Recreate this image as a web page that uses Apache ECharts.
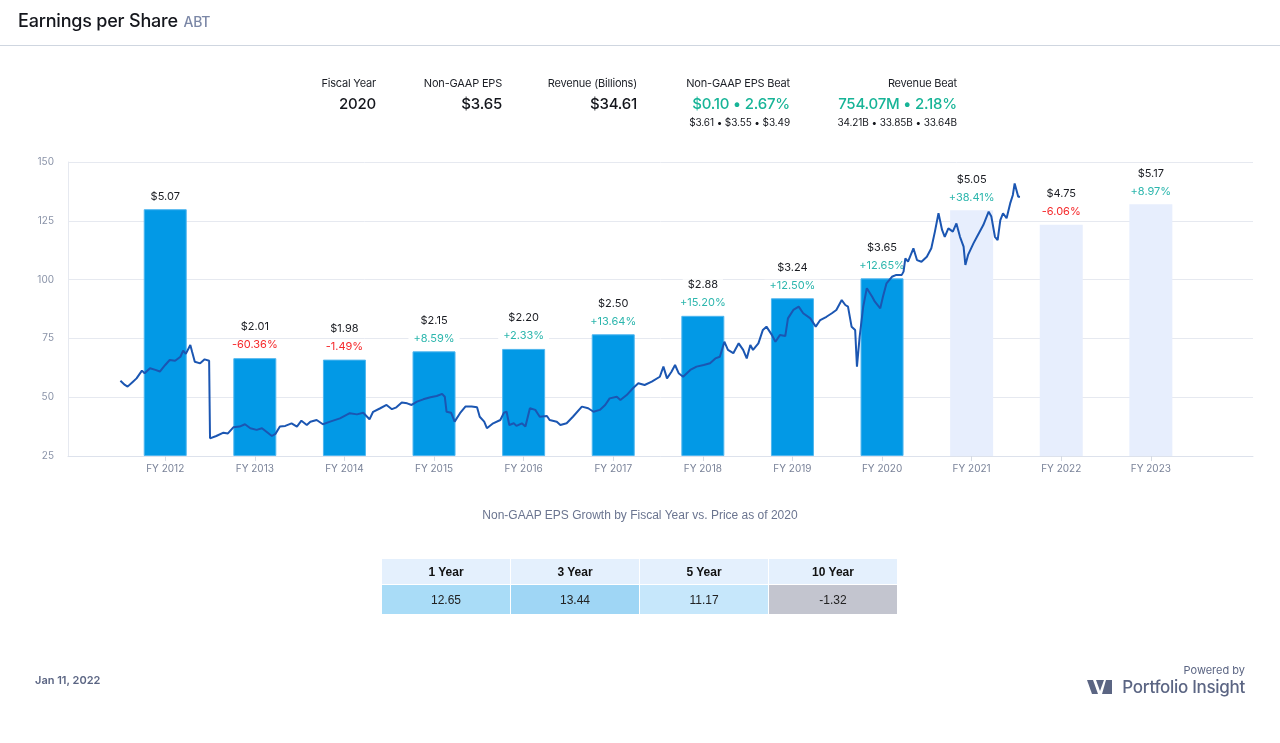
<!DOCTYPE html>
<html>
<head>
<meta charset="utf-8">
<script src="https://cdn.jsdelivr.net/npm/echarts@6.0.0/dist/echarts.min.js"></script>
<style>
  html, body { margin: 0; padding: 0; background: #fff; }
  body { width: 1280px; height: 743px; position: relative; overflow: hidden; font-family: Inter, "Noto Sans", sans-serif; }
  #chart { position: absolute; left: 0; top: 0; width: 1280px; height: 743px; }
  .abs { position: absolute; white-space: nowrap; }
  #title { left: 18px; top: 10px; font-size: 18px; font-weight: 500; color: #14161c; letter-spacing: -0.2px; }
  #title span { font-size: 14px; color: #7b87a6; font-weight: 500; margin-left: 1px; }
  #rule { left: 0; top: 45px; width: 1280px; height: 1px; background: #cfd6e0; }
  .hcol { position: absolute; top: 76px; text-align: right; }
  .hcol .lab { font-size: 11px; color: #1c1f26; height: 15px; line-height: 15px; letter-spacing: -0.2px; }
  .hcol .val { font-size: 15px; color: #14161c; font-weight: 500; height: 22px; line-height: 22px; margin-top: 2px; letter-spacing: -0.2px; }
  .hcol .val.g { color: #17b497; }
  .hcol .sub { font-size: 10px; color: #14161c; height: 14px; line-height: 14px; letter-spacing: -0.1px; }
  #subtitle { left: 0; width: 1280px; top: 508px; text-align: center; font-family: "Liberation Sans", Arial, sans-serif; font-size: 12px; color: #6b7590; }
  #tbl { position: absolute; left: 381px; top: 559px; border-collapse: separate; border-spacing: 1px 0; font-family: "Liberation Sans", Arial, sans-serif; }
  #tbl td { width: 128px; text-align: center; font-size: 12px; padding: 0; }
  #tbl tr.h td { height: 25px; background: #e4f0fd; font-weight: bold; color: #111; }
  #tbl tr.v td { height: 29px; color: #222; border-top: 1px solid #fff; }
  #date { left: 35px; top: 673px; font-size: 11px; font-weight: 600; color: #5b6583; }
  #powered { right: 35px; top: 663px; font-size: 11px; color: #5b6583; }
  #brand { right: 35px; top: 677px; font-size: 17px; font-weight: 500; color: #5b6583; letter-spacing: -0.3px; display: flex; align-items: center; }
  #brand svg { margin-right: 9px; }
</style>
</head>
<body>
<div id="chart"></div>
<div id="title" class="abs">Earnings per Share <span>ABT</span></div>
<div id="rule" class="abs"></div>
<div id="header"></div>
<div id="subtitle" class="abs">Non-GAAP EPS Growth by Fiscal Year vs. Price as of 2020</div>
<table id="tbl"><tr class="h" id="th"></tr><tr class="v" id="tv"></tr></table>
<div id="date" class="abs">Jan 11, 2022</div>
<div id="powered" class="abs">Powered by</div>
<div id="brand" class="abs"><svg width="26" height="16" viewBox="0 0 26 16"><polygon points="0,1 6,1 11,15 5,15" fill="#5b6583"/><polygon points="9,1 17,1 13,12" fill="#5b6583"/><polygon points="19,1 25,1 25,15 15,15" fill="#5b6583"/></svg>Portfolio Insight</div>

<script>
// ---------------- data ----------------
const fiscalYears = [2012, 2013, 2014, 2015, 2016, 2017, 2018, 2019, 2020, 2021, 2022, 2023];
const epsValues   = [5.07, 2.01, 1.98, 2.15, 2.20, 2.50, 2.88, 3.24, 3.65, 5.05, 4.75, 5.17];
const epsGrowth   = [null, -60.36, -1.49, 8.59, 2.33, 13.64, 15.20, 12.50, 12.65, 38.41, -6.06, 8.97];
const isEstimate  = [false, false, false, false, false, false, false, false, false, true, true, true];

const yTicks = [25, 50, 75, 100, 125, 150];

// share price (decimal year, USD)
const priceDates = [
  2012.00, 2012.05, 2012.08, 2012.14, 2012.18, 2012.24, 2012.27, 2012.33, 2012.39, 2012.44,
  2012.50, 2012.55, 2012.61, 2012.67, 2012.70, 2012.73, 2012.78, 2012.80, 2012.83, 2012.89,
  2012.94, 2012.99, 2013.00, 2013.07, 2013.15, 2013.20, 2013.26, 2013.33, 2013.39, 2013.45,
  2013.52, 2013.58, 2013.63, 2013.69, 2013.73, 2013.78, 2013.84, 2013.91, 2013.97, 2014.02,
  2014.08, 2014.12, 2014.19, 2014.26, 2014.34, 2014.45, 2014.56, 2014.64, 2014.71, 2014.78,
  2014.82, 2014.90, 2014.97, 2015.03, 2015.08, 2015.14, 2015.20, 2015.25, 2015.31, 2015.38,
  2015.46, 2015.53, 2015.59, 2015.62, 2015.64, 2015.69, 2015.73, 2015.79, 2015.85, 2015.92,
  2015.98, 2016.01, 2016.06, 2016.09, 2016.16, 2016.24, 2016.28, 2016.31, 2016.34, 2016.39,
  2016.42, 2016.48, 2016.52, 2016.57, 2016.63, 2016.68, 2016.76, 2016.79, 2016.87, 2016.91,
  2016.98, 2017.05, 2017.15, 2017.22, 2017.28, 2017.35, 2017.41, 2017.46, 2017.54, 2017.58,
  2017.65, 2017.72, 2017.78, 2017.85, 2017.93, 2018.02, 2018.06, 2018.10, 2018.15, 2018.19,
  2018.23, 2018.28, 2018.36, 2018.43, 2018.51, 2018.58, 2018.64, 2018.69, 2018.74, 2018.78,
  2018.84, 2018.90, 2018.95, 2018.99, 2019.03, 2019.06, 2019.12, 2019.17, 2019.21, 2019.27,
  2019.31, 2019.36, 2019.42, 2019.45, 2019.51, 2019.57, 2019.62, 2019.70, 2019.76, 2019.81,
  2019.88, 2019.94, 2019.99, 2020.05, 2020.09, 2020.12, 2020.16, 2020.20, 2020.22, 2020.25,
  2020.29, 2020.33, 2020.39, 2020.42, 2020.48, 2020.51, 2020.55, 2020.61, 2020.66, 2020.72,
  2020.74, 2020.76, 2020.79, 2020.85, 2020.89, 2020.94, 2021.00, 2021.05, 2021.09, 2021.13,
  2021.17, 2021.20, 2021.24, 2021.29, 2021.33, 2021.37, 2021.41, 2021.43, 2021.46, 2021.52,
  2021.57, 2021.63, 2021.69, 2021.72, 2021.76, 2021.79, 2021.82, 2021.85, 2021.89, 2021.93,
  2021.96, 2021.98, 2022.02, 2022.04
];
const priceValues = [
  57.0, 55.2, 54.5, 56.6, 58.0, 61.3, 60.2, 62.3, 61.6, 60.9,
  63.7, 65.8, 65.5, 67.2, 69.8, 68.4, 72.2, 69.3, 65.1, 64.4,
  66.1, 65.5, 32.5, 33.5, 34.9, 34.6, 37.2, 37.5, 38.5, 36.8,
  36.1, 36.8, 35.3, 33.5, 34.4, 37.5, 37.8, 38.9, 37.5, 40.0,
  38.2, 39.6, 40.3, 38.5, 39.6, 41.0, 43.2, 42.7, 43.4, 40.6,
  43.8, 45.3, 46.7, 44.9, 45.7, 47.7, 47.4, 46.7, 48.1, 49.1,
  50.0, 50.5, 51.4, 50.2, 43.8, 43.4, 39.6, 43.2, 46.0, 46.0,
  45.7, 41.7, 39.6, 36.8, 38.9, 40.3, 43.4, 43.8, 38.2, 38.9,
  37.8, 38.9, 37.5, 45.3, 44.6, 41.7, 42.0, 40.3, 39.6, 38.2,
  38.9, 41.7, 46.0, 45.3, 43.8, 44.6, 46.7, 49.5, 50.2, 48.8,
  50.9, 53.8, 55.9, 55.2, 56.6, 58.7, 63.0, 58.0, 60.8, 63.7,
  60.2, 58.7, 61.6, 63.0, 63.7, 64.4, 66.5, 67.2, 73.6, 70.1,
  68.7, 72.9, 70.1, 66.5, 72.2, 70.1, 72.9, 78.6, 80.0, 76.5,
  73.6, 76.4, 76.0, 83.5, 87.1, 88.5, 85.7, 83.5, 80.0, 82.8,
  84.2, 85.7, 87.1, 91.3, 89.2, 88.5, 80.0, 78.6, 63.0, 75.7,
  88.5, 96.3, 92.7, 90.6, 87.8, 92.7, 98.4, 101.2, 102.0, 102.0,
  103.4, 109.0, 107.6, 113.3, 108.3, 107.6, 109.7, 113.3, 120.4, 128.2,
  121.1, 118.2, 121.8, 120.4, 123.9, 118.2, 114.0, 106.2, 110.5, 115.4,
  119.0, 123.2, 128.9, 126.8, 118.2, 116.8, 125.3, 128.2, 126.1, 132.4,
  136.0, 140.9, 135.2, 135.2
];

// header summary
const headerLabels = ['Fiscal Year', 'Non-GAAP EPS', 'Revenue (Billions)', 'Non-GAAP EPS Beat', 'Revenue Beat'];
const headerValues = ['2020', '$3.65', '$34.61', '$0.10 \u2022 2.67%', '754.07M \u2022 2.18%'];
const headerSubs   = ['', '', '', '$3.61 \u2022 $3.55 \u2022 $3.49', '34.21B \u2022 33.85B \u2022 33.64B'];

// growth table
const growthPeriods = ['1 Year', '3 Year', '5 Year', '10 Year'];
const growthValues  = ['12.65', '13.44', '11.17', '-1.32'];

// ---------------- header / table ----------------
const headerRight = [376, 502, 637, 790, 957];
const hdr = document.getElementById('header');
headerLabels.forEach((l, i) => {
  const d = document.createElement('div');
  d.className = 'hcol';
  d.style.right = (1280 - headerRight[i]) + 'px';
  d.innerHTML = '<div class="lab">' + l + '</div><div class="val' + (i >= 3 ? ' g' : '') + '">' + headerValues[i] + '</div>' +
    (headerSubs[i] ? '<div class="sub">' + headerSubs[i] + '</div>' : '');
  hdr.appendChild(d);
});
const cellColors = ['#a9dcf7', '#9fd6f5', '#c6e7fb', '#c3c5cf'];
const th = document.getElementById('th'), tv = document.getElementById('tv');
growthPeriods.forEach((p, i) => {
  const a = document.createElement('td'); a.textContent = p; th.appendChild(a);
  const b = document.createElement('td'); b.textContent = growthValues[i]; b.style.background = cellColors[i]; tv.appendChild(b);
});

// ---------------- chart ----------------
const chart = echarts.init(document.getElementById('chart'), null, { renderer: 'canvas' });
const barX = fiscalYears.map(y => y + 0.5);
const barData = epsValues.map((v, i) => ({
  value: [barX[i], v],
  itemStyle: isEstimate[i] ? { color: '#e7eefd' } : { color: '#0299e6', borderColor: '#4fb6ef', borderWidth: 1 }
}));
const lineData = priceDates.map((d, i) => [d, priceValues[i]]);

chart.setOption({
  animation: false,
  textStyle: { fontFamily: 'Inter, "Noto Sans", sans-serif' },
  grid: { left: 68, right: 27, top: 162, bottom: 287, containLabel: false },
  xAxis: {
    type: 'value',
    min: 2011.415,
    max: 2024.64,
    splitLine: { show: false },
    axisLine: { show: true, lineStyle: { color: '#dde2ec', width: 1 } },
    axisTick: { show: true, customValues: barX, length: 5, lineStyle: { color: '#d5dae4' } },
    axisLabel: {
      customValues: barX,
      formatter: v => 'FY ' + Math.floor(v),
      color: '#7a8399', fontSize: 10, margin: 8
    }
  },
  yAxis: [{
    type: 'value',
    min: 25, max: 150, interval: 25,
    axisLine: { show: true, lineStyle: { color: '#e6e9f0' } },
    axisTick: { show: false },
    splitLine: { lineStyle: { color: '#e6e9f0', width: 1 } },
    axisLabel: { color: '#8a93a8', fontSize: 10, margin: 14, verticalAlign: 'middle', padding: [0, 0, 8, 0] }
  }, {
    type: 'value', min: 0, max: 6.04, show: false, splitLine: { show: false }
  }],
  series: [{
    type: 'bar',
    yAxisIndex: 1,
    barWidth: 43,
    data: barData,
    z: 2,
    label: {
      show: true,
      position: 'top',
      distance: 4,
      formatter: p => {
        const i = p.dataIndex;
        let s = '{d|$' + epsValues[i].toFixed(2) + '}';
        const g = epsGrowth[i];
        if (g !== null) s += '\n{' + (g < 0 ? 'n' : 'p') + '|' + (g > 0 ? '+' : '') + g.toFixed(2) + '%}';
        return s;
      },
      rich: {
        d: { color: '#1a1c22', fontSize: 11, lineHeight: 18, backgroundColor: '#fff', padding: [0, 5] },
        p: { color: '#2cb6ad', fontSize: 11, lineHeight: 18, backgroundColor: '#fff', padding: [0, 5] },
        n: { color: '#f5282a', fontSize: 11, lineHeight: 18, backgroundColor: '#fff', padding: [0, 5] }
      }
    }
  }, {
    type: 'line',
    data: lineData,
    showSymbol: false,
    z: 3,
    lineStyle: { color: '#1b56b2', width: 2 },
    itemStyle: { color: '#1b56b2' }
  }]
});
</script>
</body>
</html>
